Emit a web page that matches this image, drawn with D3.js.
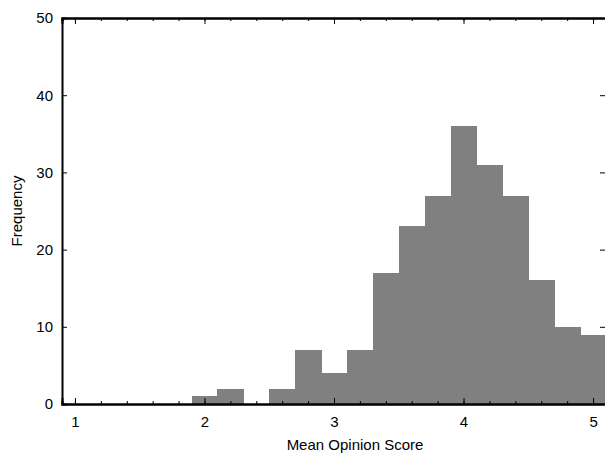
<!DOCTYPE html>
<html>
<head>
<meta charset="utf-8">
<script src="https://cdn.jsdelivr.net/npm/d3@7"></script>
<style>
body{margin:0;background:#fff}
text{font-family:"Liberation Sans",Arial,Helvetica,sans-serif;fill:#000}
</style>
</head>
<body>
<svg id="chart" width="605" height="454"></svg>
<script>
// histogram bins (left edge, right edge) and counts
var binStart = [1.9,2.1,2.3,2.5,2.7,2.9,3.1,3.3,3.5,3.7,3.9,4.1,4.3,4.5,4.7,4.9]
var binEnd   = [2.1,2.3,2.5,2.7,2.9,3.1,3.3,3.5,3.7,3.9,4.1,4.3,4.5,4.7,4.9,5.1]
var counts   = [1,2,0,2,7,4,7,17,23,27,36,31,27,16,10,9]
var xTicks = [1,2,3,4,5]
var yTicks = [0,10,20,30,40,50]

var svg = d3.select("#chart")
var pl = 62, pr = 606, pt = 18, pb = 404

var x = d3.scaleLinear().domain([0.9,5.1]).range([pl,pr])
var y = d3.scaleLinear().domain([0,50]).range([pb,pt])

var minor = d3.range(1,5.11,0.2).map(function(d){return +d.toFixed(1)})

// bars
svg.append("g").attr("shape-rendering","crispEdges").selectAll("rect")
	.data(counts)
	.enter().append("rect")
	.attr("x",function(d,i){return Math.round(x(binStart[i]))})
	.attr("width",function(d,i){return Math.round(x(binEnd[i]))-Math.round(x(binStart[i]))+1})
	.attr("y",function(d){return y(d)})
	.attr("height",function(d){return y(0)-y(d)})
	.attr("fill","#808080")
	.style("display",function(d){return d>0 ? null:"none"})

// bottom axis
var xb = svg.append("g").attr("transform","translate(0,"+pb+")")
xb.call(d3.axisBottom(x).tickValues(minor).tickSize(-3).tickFormat(""))
xb.append("g").call(d3.axisBottom(x).tickValues(xTicks).tickSize(-6).tickPadding(12).tickFormat(d3.format("d")))

// top axis (mirrored ticks)
var xt = svg.append("g").attr("transform","translate(0,"+pt+")")
xt.call(d3.axisTop(x).tickValues(minor).tickSize(-3).tickFormat(""))
xt.append("g").call(d3.axisTop(x).tickValues(xTicks).tickSize(-6).tickFormat(""))

// left axis
var yl = svg.append("g").attr("transform","translate("+pl+",0)")
yl.call(d3.axisLeft(y).tickValues(yTicks).tickSize(-5).tickPadding(9).tickFormat(d3.format("d")))

// right ticks
var yr = svg.append("g").attr("transform","translate("+(pr-1)+",0)")
yr.call(d3.axisRight(y).tickValues(yTicks).tickSize(-5).tickFormat(""))
yr.select(".domain").remove()

svg.selectAll(".domain").attr("stroke","#000").attr("stroke-width",2)
svg.selectAll(".tick line").attr("stroke","#000").attr("stroke-width",1)
svg.selectAll(".tick text").style("font-size","15px").attr("fill","#000")

svg.append("text").attr("x",355).attr("y",450)
	.attr("text-anchor","middle").style("font-size","15px").text("Mean Opinion Score")
svg.append("text").attr("transform","translate(22,211) rotate(-90)")
	.attr("text-anchor","middle").style("font-size","15px").text("Frequency")
</script>
</body>
</html>
